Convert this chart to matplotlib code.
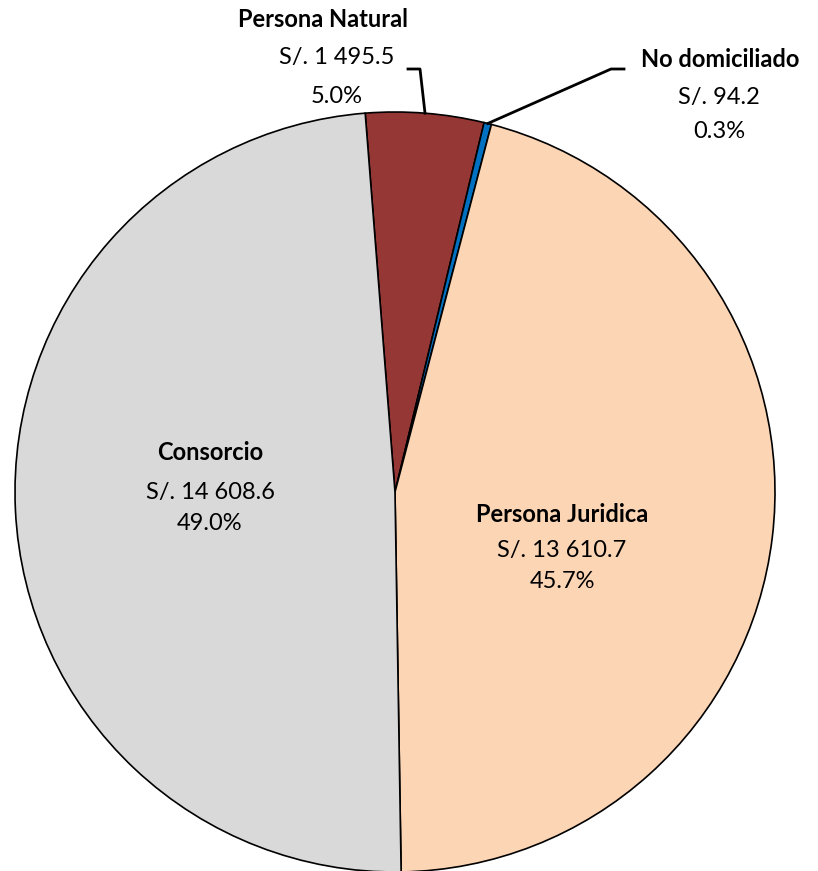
import numpy as np
import matplotlib.pyplot as plt

plt.rcParams['font.family'] = ['Lato', 'DejaVu Sans']

labels = ['Persona Natural', 'No domiciliado', 'Persona Juridica', 'Consorcio']
values = [1495.5, 94.2, 13610.7, 14608.6]
colors = ['#953735', '#0070C0', '#FCD5B5', '#D9D9D9']

total = sum(values)
pcts = [v / total * 100 for v in values]

def fmt_money(v):
    s = '{:,.1f}'.format(v).replace(',', ' ')
    return 'S/. ' + s

W, H = 818, 871
fig = plt.figure(figsize=(W / 100, H / 100), dpi=100)
ax = fig.add_axes([0, 0, 1, 1])
ax.set_xlim(0, W)
ax.set_ylim(0, H)
ax.axis('off')

cx, cy, r = 395, H - 492, 380
wedges, _ = ax.pie(values, colors=colors, startangle=94.5, counterclock=False,
                   center=(cx, cy), radius=r, frame=True,
                   wedgeprops=dict(edgecolor='black', linewidth=1.2))
ax.set_xlim(0, W)
ax.set_ylim(0, H)
ax.axis('off')

# label positions in pixels (x, y of each line, from top)
pos = {
    'Persona Natural': [(323, 20), (337, 58), (337, 97)],
    'No domiciliado': [(720, 60), (719, 98), (719, 132)],
    'Persona Juridica': [(562, 514), (562, 550), (562, 582)],
    'Consorcio': [(210, 453), (210, 492), (210, 524)],
}
fs = 17
for lab, v, p in zip(labels, values, pcts):
    lines = [lab, fmt_money(v), '{:.1f}%'.format(p)]
    for i, (t, (x, y)) in enumerate(zip(lines, pos[lab])):
        ax.text(x, H - y, t, ha='center', va='center', fontsize=fs,
                fontweight='bold' if i == 0 else 'normal', color='black')

# leader lines
def anchor(w):
    a = np.deg2rad((w.theta1 + w.theta2) / 2)
    return cx + r * np.cos(a), cy + r * np.sin(a)

ax0, ay0 = anchor(wedges[0])
ax.plot([408, 420, ax0], [H - 69, H - 69, ay0], color='black', lw=2)
ax1, ay1 = anchor(wedges[1])
ax.plot([ax1, 611, 624], [ay1, H - 69, H - 69], color='black', lw=2)

fig.savefig('out.png', dpi=100)
